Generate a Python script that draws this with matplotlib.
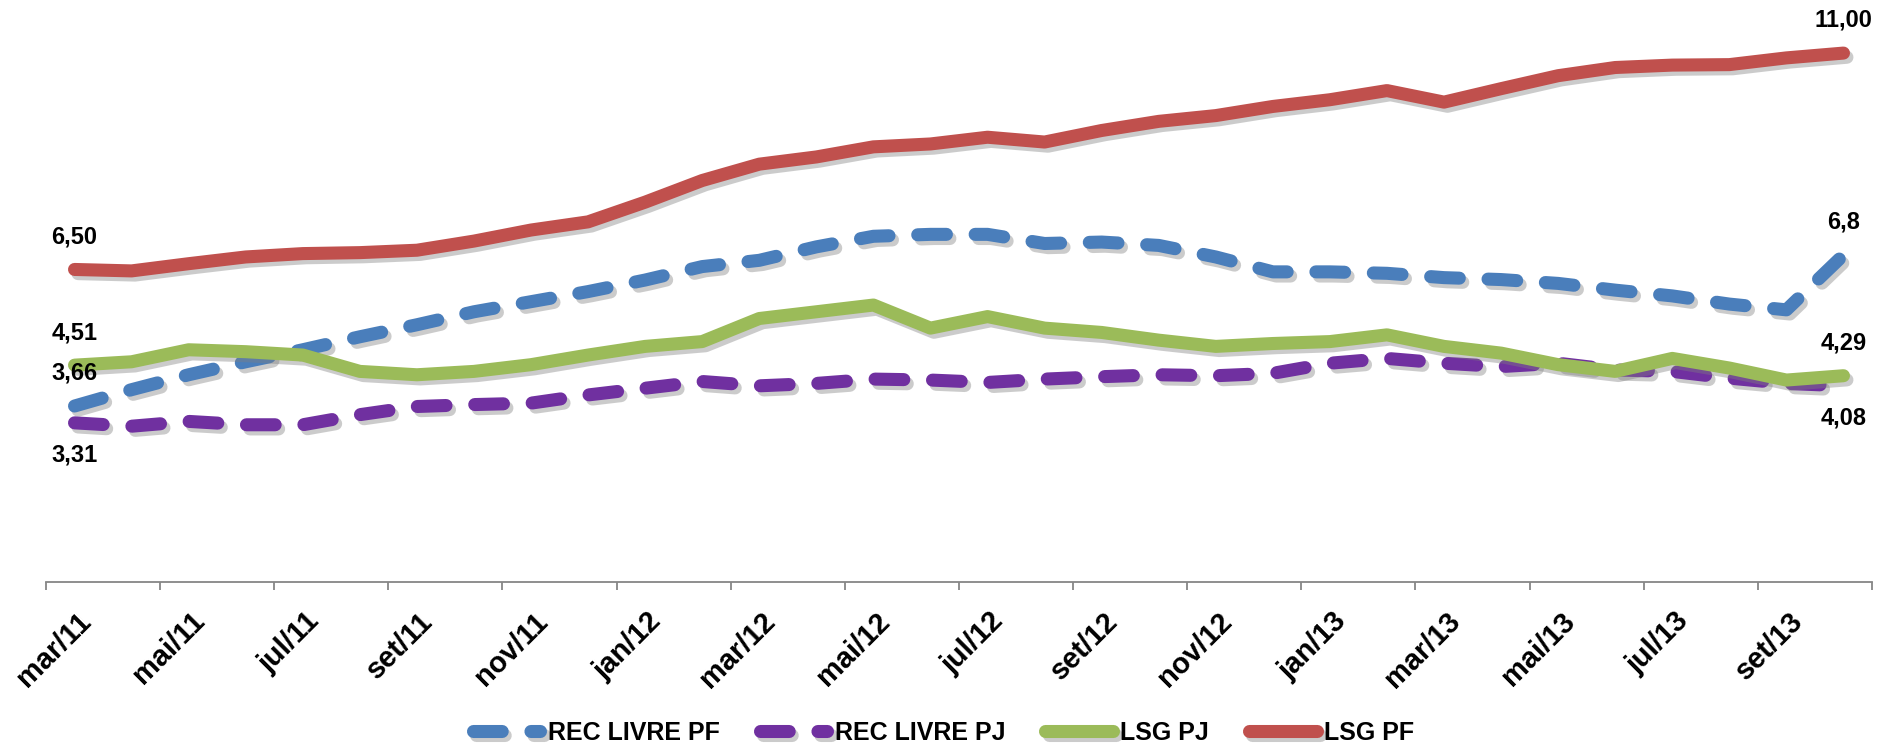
import matplotlib
matplotlib.use("Agg")
import matplotlib.pyplot as plt
import matplotlib.patheffects as pe
from matplotlib.transforms import ScaledTranslation

# ---------------- data ----------------
months = ["mar/11", "abr/11", "mai/11", "jun/11", "jul/11", "ago/11", "set/11", "out/11",
          "nov/11", "dez/11", "jan/12", "fev/12", "mar/12", "abr/12", "mai/12", "jun/12",
          "jul/12", "ago/12", "set/12", "out/12", "nov/12", "dez/12", "jan/13", "fev/13",
          "mar/13", "abr/13", "mai/13", "jun/13", "jul/13", "ago/13", "set/13", "out/13"]

rec_livre_pf = [3.66, 4.00, 4.31, 4.58, 4.83, 5.10, 5.35, 5.62, 5.83, 6.04,
                6.28, 6.56, 6.69, 6.97, 7.19, 7.23, 7.23, 7.04, 7.07, 7.00,
                6.76, 6.45, 6.45, 6.42, 6.33, 6.29, 6.21, 6.07, 5.95, 5.78,
                5.66, 6.80]
rec_livre_pj = [3.31, 3.24, 3.34, 3.27, 3.27, 3.48, 3.65, 3.69, 3.72, 3.89,
                4.03, 4.17, 4.08, 4.13, 4.22, 4.20, 4.15, 4.22, 4.27, 4.31,
                4.29, 4.34, 4.55, 4.65, 4.55, 4.48, 4.55, 4.41, 4.38, 4.24,
                4.13, 4.08]
lsg_pj = [4.51, 4.58, 4.83, 4.79, 4.72, 4.38, 4.31, 4.38, 4.52, 4.72,
          4.90, 5.00, 5.48, 5.62, 5.76, 5.28, 5.52, 5.28, 5.19, 5.03,
          4.90, 4.96, 5.00, 5.14, 4.90, 4.76, 4.52, 4.38, 4.65, 4.45,
          4.20, 4.29]
lsg_pf = [6.50, 6.47, 6.62, 6.76, 6.83, 6.85, 6.90, 7.09, 7.32, 7.49,
          7.90, 8.35, 8.69, 8.84, 9.05, 9.11, 9.25, 9.15, 9.39, 9.58,
          9.70, 9.89, 10.03, 10.22, 9.98, 10.26, 10.53, 10.70, 10.75, 10.76,
          10.90, 11.00]

series_names = ["REC LIVRE PF", "REC LIVRE PJ", "LSG PJ", "LSG PF"]
colors = ["#4A7EBB", "#7030A0", "#9BBB59", "#C0504D"]

start_labels = ["3,66", "3,31", "4,51", "6,50"]
end_labels = ["6,8", "4,08", "4,29", "11,00"]
label_side = [1, -1, 1, 1]   # +1 above point, -1 below

# ---------------- figure ----------------
FONT = ["Liberation Sans", "DejaVu Sans"]
plt.rcParams["font.family"] = FONT

W, H = 1881, 749
fig = plt.figure(figsize=(W / 100, H / 100), dpi=100)
ax = fig.add_axes([46 / W, 1 - 582 / H, (1872 - 46) / W, 577 / H])

x = list(range(len(months)))
all_series = [rec_livre_pf, rec_livre_pj, lsg_pj, lsg_pf]
styles = ["dash", "dash", "solid", "solid"]
shadow = [pe.SimpleLineShadow(offset=(2.5, -3), shadow_color="#7f7f7f", alpha=0.4),
          pe.Normal()]

handles = []
for vals, name, col, st in zip(all_series, series_names, colors, styles):
    ls = (0, (2.2, 2.2)) if st == "dash" else "-"
    ln, = ax.plot(x, vals, color=col, lw=9.4, linestyle=ls,
                  dash_capstyle="round", solid_capstyle="round",
                  solid_joinstyle="round", dash_joinstyle="round",
                  label=name, path_effects=shadow, zorder=3)
    handles.append(ln)

# data labels at first and last points
for vals, sl, el, side in zip(all_series, start_labels, end_labels, label_side):
    for idx, txt in ((0, sl), (len(vals) - 1, el)):
        ax.annotate(txt, (x[idx], vals[idx]), xytext=(0, side * 23.5),
                    textcoords="offset points", ha="center", va="center",
                    fontsize=17, fontweight="bold", color="black", zorder=5)

ax.set_xlim(-0.5, len(months) - 0.5)
ax.set_ylim(0, 12)

for s in ("left", "right", "top"):
    ax.spines[s].set_visible(False)
ax.spines["bottom"].set_color("#868686")
ax.spines["bottom"].set_linewidth(1.3)
ax.set_yticks([])

# tick marks between categories, labels every other category
ax.set_xticks([i - 0.5 for i in range(0, len(months) + 1, 2)])
ax.set_xticklabels([])
ax.tick_params(axis="x", which="major", length=6, width=1.3, color="#868686", direction="out")
ax.set_xticks(list(range(0, len(months), 2)), minor=True)
ax.set_xticklabels(months[::2], minor=True, rotation=45, ha="right", va="top",
                   rotation_mode="anchor", fontsize=21, fontweight="bold")
ax.tick_params(axis="x", which="minor", length=0, pad=18)
for lab in ax.get_xticklabels(minor=True):
    lab.set_transform(lab.get_transform() + ScaledTranslation(2 / 100, 0, fig.dpi_scale_trans))

fig.legend(handles=handles, labels=series_names, loc="center", ncol=4,
           bbox_to_anchor=(943.5 / W, 1 - 733 / H), frameon=False,
           prop={"family": FONT, "weight": "bold", "size": 18},
           handlelength=2.7, handletextpad=0.3, columnspacing=1.6,
           borderpad=0, borderaxespad=0)

fig.savefig("out.png", dpi=100)
